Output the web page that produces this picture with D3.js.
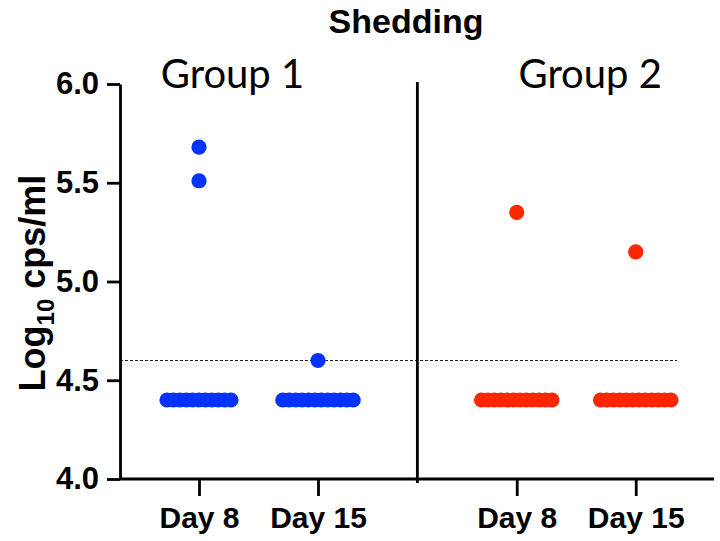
<!DOCTYPE html>
<html>
<head>
<meta charset="utf-8">
<script src="https://cdn.jsdelivr.net/npm/d3@7"></script>
<style>
  body { margin: 0; background: #fff; }
  svg { display: block; }
</style>
</head>
<body>
<svg id="chart" width="720" height="541"></svg>
<script>
// ---- data ----
const title = "Shedding";
const yLabelMain = "Log";
const yLabelSub = "10";
const yLabelRest = " cps/ml";
const groups = ["Group 1", "Group 2"];
const days = ["Day 8", "Day 15"];
const yTicks = [4.0, 4.5, 5.0, 5.5, 6.0];
const detectionLimit = 4.6;
const group1Day8 = [5.68, 5.51, 4.4, 4.4, 4.4, 4.4, 4.4, 4.4, 4.4, 4.4, 4.4, 4.4, 4.4];
const group1Day15 = [4.6, 4.4, 4.4, 4.4, 4.4, 4.4, 4.4, 4.4, 4.4, 4.4, 4.4, 4.4, 4.4];
const group2Day8 = [5.35, 4.4, 4.4, 4.4, 4.4, 4.4, 4.4, 4.4, 4.4, 4.4, 4.4, 4.4, 4.4];
const group2Day15 = [5.15, 4.4, 4.4, 4.4, 4.4, 4.4, 4.4, 4.4, 4.4, 4.4, 4.4, 4.4, 4.4];
const groupColors = ["#0433FF", "#FF2600"];

const series = [
  { group: 0, day: 0, values: group1Day8 },
  { group: 0, day: 1, values: group1Day15 },
  { group: 1, day: 0, values: group2Day8 },
  { group: 1, day: 1, values: group2Day15 }
];

// ---- layout ----
const svg = d3.select("#chart");
const pLeft = 120, pRight = 714, pTop = 84, pBottom = 479;
const groupGap = 2.67;          // slot distance between groups
const slot = (g, d) => g * groupGap + d;

const x = d3.scaleLinear().domain([0, 1]).range([199, 318]);
const y = d3.scaleLinear().domain([4, 6]).range([pBottom, pTop]);

const boldFont = "'Liberation Sans', Arial, Helvetica, sans-serif";

// dashed limit line
svg.append("line")
  .attr("x1", pLeft).attr("x2", 677)
  .attr("y1", y(detectionLimit)).attr("y2", y(detectionLimit))
  .attr("stroke", "#222").attr("stroke-width", 1)
  .attr("stroke-dasharray", "3,2");

// points
const r = 7.6, spread = 6.4;
series.forEach(s => {
  const counts = d3.rollup(s.values, v => v.length, v => v);
  const seen = new Map();
  const pts = s.values.map(v => {
    const n = counts.get(v);
    const k = seen.get(v) || 0;
    seen.set(v, k + 1);
    return { v, off: (k - (n - 1) / 2) * spread };
  });
  svg.append("g").selectAll("circle")
    .data(pts).join("circle")
    .attr("cx", p => x(slot(s.group, s.day)) + p.off)
    .attr("cy", p => y(p.v))
    .attr("r", r)
    .attr("fill", groupColors[s.group]);
});

// y axis
const yAxis = svg.append("g")
  .attr("transform", `translate(${pLeft},0)`)
  .call(d3.axisLeft(y).tickValues(yTicks).tickFormat(d3.format(".1f"))
    .tickSize(13).tickPadding(8).tickSizeOuter(0));
yAxis.select(".domain").attr("stroke", "#000").attr("stroke-width", 2.8);
yAxis.selectAll(".tick line").attr("stroke", "#000").attr("stroke-width", 2.8);
yAxis.selectAll(".tick text")
  .attr("font-family", boldFont).attr("font-weight", "bold")
  .attr("font-size", 31).attr("fill", "#000");

// x axis
const xTickVals = [];
const xTickLabels = new Map();
groups.forEach((g, gi) => days.forEach((d, di) => {
  xTickVals.push(slot(gi, di));
  xTickLabels.set(slot(gi, di), d);
}));
const xAxis = svg.append("g")
  .attr("transform", `translate(0,${pBottom})`)
  .call(d3.axisBottom(x).tickValues(xTickVals).tickFormat(v => xTickLabels.get(v))
    .tickSize(17).tickPadding(11).tickSizeOuter(0));
xAxis.select(".domain").attr("d", `M${pLeft},0H${pRight}`)
  .attr("stroke", "#000").attr("stroke-width", 2.8);
xAxis.selectAll(".tick line").attr("stroke", "#000").attr("stroke-width", 2.8);
xAxis.selectAll(".tick text")
  .attr("font-family", boldFont).attr("font-weight", "bold")
  .attr("font-size", 30).attr("fill", "#000");

// group divider
const divX = (x(slot(0, 1)) + x(slot(1, 0))) / 2;
svg.append("line")
  .attr("x1", divX).attr("x2", divX)
  .attr("y1", 82).attr("y2", pBottom + 4)
  .attr("stroke", "#000").attr("stroke-width", 2.8);

// title
svg.append("text")
  .attr("x", 406).attr("y", 33)
  .attr("text-anchor", "middle")
  .attr("font-family", boldFont).attr("font-weight", "bold")
  .attr("font-size", 34).text(title);

// group labels
groups.forEach((g, gi) => {
  svg.append("text")
    .attr("x", (x(slot(gi, 0)) + x(slot(gi, 1))) / 2 - 26 + gi * 40)
    .attr("y", 88)
    .attr("text-anchor", "middle")
    .attr("font-family", "Lato, 'Open Sans', sans-serif")
    .attr("font-size", 40).text(g);
});

// y label
const yl = svg.append("text")
  .attr("transform", `translate(45,283) rotate(-90)`)
  .attr("text-anchor", "middle")
  .attr("font-family", boldFont).attr("font-weight", "bold")
  .attr("font-size", 36);
yl.append("tspan").text(yLabelMain);
yl.append("tspan").attr("font-size", 24).attr("dy", 9).text(yLabelSub);
yl.append("tspan").attr("dy", -9).text(yLabelRest);
</script>
</body>
</html>
